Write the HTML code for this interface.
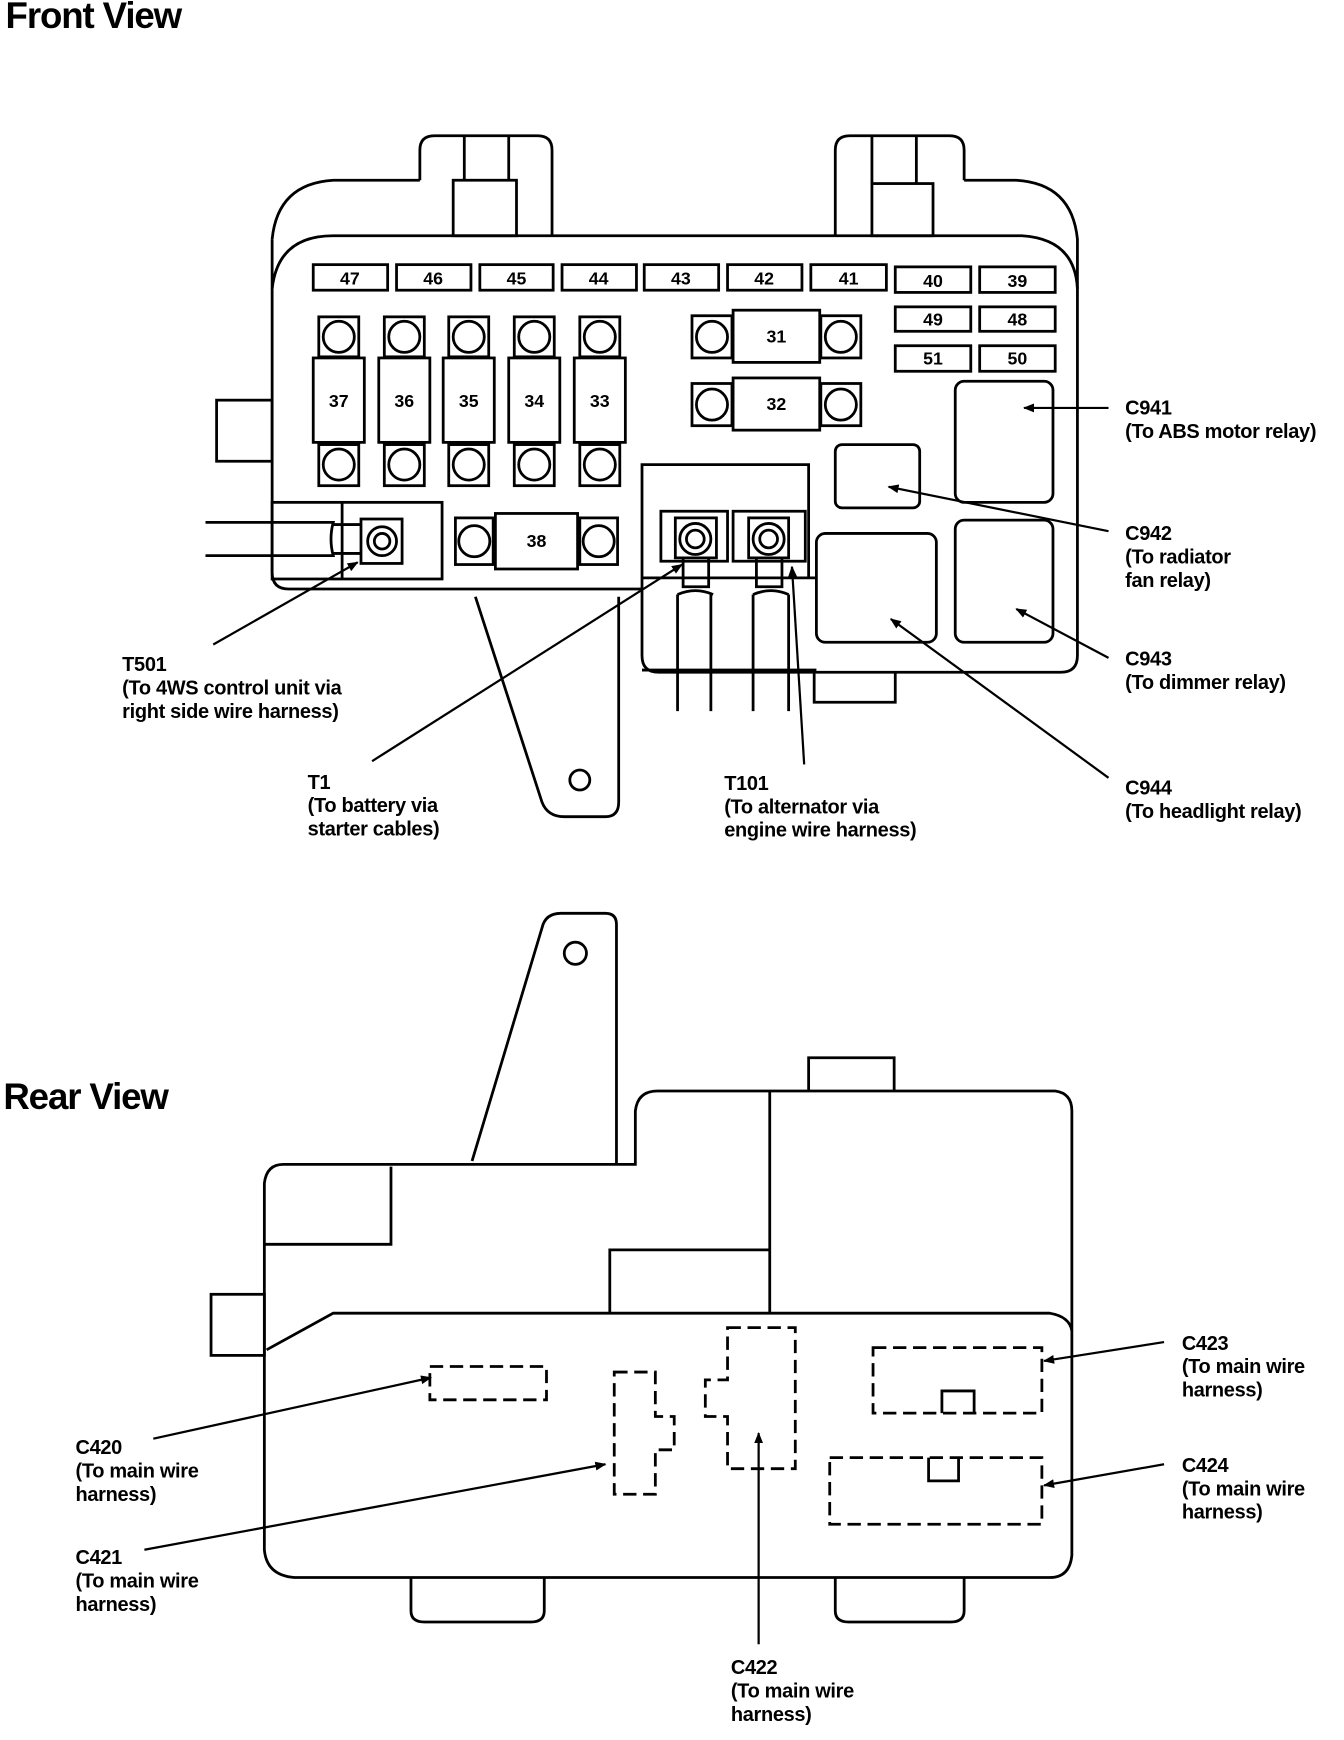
<!DOCTYPE html>
<html><head><meta charset="utf-8"><style>
html,body{margin:0;padding:0;background:#fff;}
svg{display:block}
text{font-family:"Liberation Sans",sans-serif;font-weight:bold;fill:#000}
.l{font-size:18px;letter-spacing:-0.3px}
.n{font-size:16px;text-anchor:middle}
</style></head><body>
<svg width="1344" height="1740" viewBox="0 0 1210 1566" xmlns="http://www.w3.org/2000/svg">
<defs><marker id="a" markerWidth="10" markerHeight="8" refX="9" refY="4" orient="auto" markerUnits="userSpaceOnUse"><path d="M0,0 L10,4 L0,8 z" fill="#000"/></marker></defs>
<text x="5" y="25" style="font-size:33px;letter-spacing:-1px">Front View</text>
<g fill="none" stroke="#000" stroke-width="2.5">
<!-- clips -->
<path d="M378,162 V135 Q378,122 391,122 H484 Q497,122 497,135 V212"/>
<path d="M418,122 V162 M458,122 V162"/>
<rect x="408" y="162" width="57" height="50"/>
<path d="M752,212 V135 Q752,122 765,122 H855 Q868,122 868,135 V162"/>
<path d="M785,122 V165 M825,122 V165"/>
<rect x="785" y="165" width="55" height="47"/>
<!-- outer -->
<path d="M378,162 H300 Q250,165 245,215 M868,162 H915 Q965,165 970,215 V590 Q970,605 955,605 H593 Q578,605 578,590 V530"/>
<path d="M245,215 V515 Q245,530 260,530 H578"/>
<path d="M245,260 Q250,212 300,212 H920 Q968,215 970,260"/>
<!-- bracket -->
<path d="M428,537 L488,722 Q493,735 508,735 H545 Q557,735 557,722 V537"/>
<circle cx="522" cy="702" r="9"/>
<rect x="195" y="360" width="50" height="55"/>
<!-- small fuses -->
<rect x="282" y="238" width="67" height="23"/><rect x="357" y="238" width="67" height="23"/>
<rect x="432" y="238" width="66" height="23"/><rect x="506" y="238" width="67" height="23"/>
<rect x="580" y="238" width="67" height="23"/><rect x="655" y="238" width="67" height="23"/>
<rect x="730" y="238" width="68" height="23"/><rect x="806" y="240" width="68" height="23"/>
<rect x="882" y="240" width="68" height="23"/>
<rect x="806" y="276" width="68" height="22"/><rect x="882" y="276" width="68" height="22"/>
<rect x="806" y="311" width="68" height="23"/><rect x="882" y="311" width="68" height="23"/>
</g>
<g>
<text class="n" x="315" y="256">47</text><text class="n" x="390" y="256">46</text>
<text class="n" x="465" y="256">45</text><text class="n" x="539" y="256">44</text>
<text class="n" x="613" y="256">43</text><text class="n" x="688" y="256">42</text>
<text class="n" x="764" y="256">41</text><text class="n" x="840" y="258">40</text>
<text class="n" x="916" y="258">39</text><text class="n" x="840" y="293">49</text>
<text class="n" x="916" y="293">48</text><text class="n" x="840" y="328">51</text>
<text class="n" x="916" y="328">50</text>
<text class="n" x="305" y="366">37</text><text class="n" x="364" y="366">36</text>
<text class="n" x="422" y="366">35</text><text class="n" x="481" y="366">34</text>
<text class="n" x="540" y="366">33</text>
<text class="n" x="699" y="308">31</text><text class="n" x="699" y="369">32</text>
<text class="n" x="483" y="492">38</text>
</g>
<g fill="none" stroke="#000" stroke-width="2.5">
<!-- big fuses -->
<g id="bf"><rect x="287" y="285" width="36" height="36"/><circle cx="305" cy="303" r="14"/><rect x="282" y="322" width="46" height="76"/><rect x="287" y="400" width="36" height="37"/><circle cx="305" cy="418" r="14"/></g>
<use href="#bf" x="59"/><use href="#bf" x="117"/><use href="#bf" x="176"/><use href="#bf" x="235"/>
<g id="mf"><rect x="623" y="284" width="36" height="38"/><circle cx="641" cy="303" r="14"/><rect x="660" y="279" width="78" height="47"/><rect x="739" y="284" width="36" height="38"/><circle cx="757" cy="303" r="14"/></g>
<use href="#mf" y="61"/>
<rect x="410" y="466" width="34" height="42"/><circle cx="427" cy="487" r="14"/>
<rect x="446" y="462" width="74" height="50"/>
<rect x="522" y="466" width="34" height="42"/><circle cx="539" cy="487" r="14"/>
<!-- T501 -->
<rect x="245" y="452" width="153" height="69"/>
<path d="M308,452 V521"/>
<rect x="325" y="467" width="37" height="40"/>
<circle cx="344" cy="487" r="13"/><circle cx="344" cy="487" r="7"/>
<path d="M185,470 H300 Q296,485 300,500 H185"/>
<path d="M300,472 H325 M300,498 H325"/>
<!-- center -->
<path d="M578,530 V418 H728 V520"/>
<path d="M578,520 H735 M578,603 H735"/>
<rect x="595" y="460" width="60" height="45"/>
<rect x="608" y="466" width="37" height="36"/>
<circle cx="626" cy="485" r="14"/><circle cx="626" cy="485" r="8"/>
<path d="M615,502 V528 H638 V502"/>
<path d="M610,535 Q626,528 642,535 M610,535 V640 M640,535 V640"/>
<rect x="660" y="460" width="65" height="45"/>
<rect x="674" y="466" width="36" height="36"/>
<circle cx="692" cy="485" r="14"/><circle cx="692" cy="485" r="8"/>
<path d="M681,502 V528 H704 V502"/>
<path d="M678,535 Q694,528 710,535 M678,535 V640 M710,535 V640"/>
<!-- relays -->
<rect x="860" y="343" width="88" height="109" rx="8"/>
<rect x="752" y="400" width="76" height="57" rx="6"/>
<rect x="860" y="468" width="88" height="110" rx="8"/>
<rect x="735" y="480" width="108" height="98" rx="8"/>
<path d="M733,605 V632 H806 V605"/>
<!-- leaders -->
<g stroke-width="2" marker-end="url(#a)">
<path d="M998,367 H922"/>
<path d="M998,478 L800,438"/>
<path d="M998,592 L915,548"/>
<path d="M998,700 L802,557"/>
<path d="M192,580 L322,506"/>
<path d="M335,685 L614,508"/>
<path d="M724,688 L713,510"/>
</g>
</g>
<g class="l">
<text x="1013" y="373">C941</text><text x="1013" y="394">(To ABS motor relay)</text>
<text x="1013" y="486">C942</text><text x="1013" y="507">(To radiator</text><text x="1013" y="528">fan relay)</text>
<text x="1013" y="599">C943</text><text x="1013" y="620">(To dimmer relay)</text>
<text x="1013" y="715">C944</text><text x="1013" y="736">(To headlight relay)</text>
<text x="110" y="604">T501</text><text x="110" y="625">(To 4WS control unit via</text><text x="110" y="646">right side wire harness)</text>
<text x="277" y="710">T1</text><text x="277" y="731">(To battery via</text><text x="277" y="752">starter cables)</text>
<text x="652" y="711">T101</text><text x="652" y="732">(To alternator via</text><text x="652" y="753">engine wire harness)</text>
</g>

<!-- REAR -->
<text x="3" y="998" style="font-size:33px;letter-spacing:-1px">Rear View</text>
<g fill="none" stroke="#000" stroke-width="2.5">
<path d="M425,1045 L488,835 Q491,822 505,822 H545 Q555,822 555,832 V1047"/>
<circle cx="518" cy="858" r="10"/>
<path d="M238,1220 V1065 Q240,1048 255,1048 H572 V1000 Q574,982 592,982 H950 Q965,984 965,1000 V1400 Q963,1420 945,1420 H265 Q240,1418 238,1395 V1220"/>
<path d="M238,1120 H352 V1050"/>
<path d="M693,982 V1182 M549,1182 V1125 H693"/>
<path d="M728,982 V952 H805 V982"/>
<path d="M240,1215 L300,1182 H945 Q963,1185 965,1198"/>
<rect x="190" y="1165" width="48" height="55"/>
<path d="M370,1420 V1450 Q370,1460 382,1460 H478 Q490,1460 490,1450 V1420"/>
<path d="M752,1420 V1450 Q752,1460 764,1460 H856 Q868,1460 868,1450 V1420"/>
<g stroke-dasharray="12,6">
<rect x="387" y="1230" width="105" height="30"/>
<path d="M553,1235 H590 V1275 H607 V1305 H590 V1345 H553 Z"/>
<path d="M655,1195 H716 V1322 H655 V1275 H635 V1242 H655 Z"/>
<rect x="786" y="1213" width="152" height="59"/>
<rect x="747" y="1312" width="191" height="60"/>
</g>
<path d="M848,1272 V1252 H877 V1272"/>
<path d="M836,1312 V1333 H863 V1312"/>
<g stroke-width="2" marker-end="url(#a)">
<path d="M138,1295 L388,1240"/>
<path d="M130,1395 L545,1318"/>
<path d="M683,1480 V1290"/>
<path d="M1048,1208 L940,1225"/>
<path d="M1048,1318 L940,1337"/>
</g>
</g>
<g class="l">
<text x="68" y="1309">C420</text><text x="68" y="1330">(To main wire</text><text x="68" y="1351">harness)</text>
<text x="68" y="1408">C421</text><text x="68" y="1429">(To main wire</text><text x="68" y="1450">harness)</text>
<text x="658" y="1507">C422</text><text x="658" y="1528">(To main wire</text><text x="658" y="1549">harness)</text>
<text x="1064" y="1215">C423</text><text x="1064" y="1236">(To main wire</text><text x="1064" y="1257">harness)</text>
<text x="1064" y="1325">C424</text><text x="1064" y="1346">(To main wire</text><text x="1064" y="1367">harness)</text>
</g>
</svg>
</body></html>
